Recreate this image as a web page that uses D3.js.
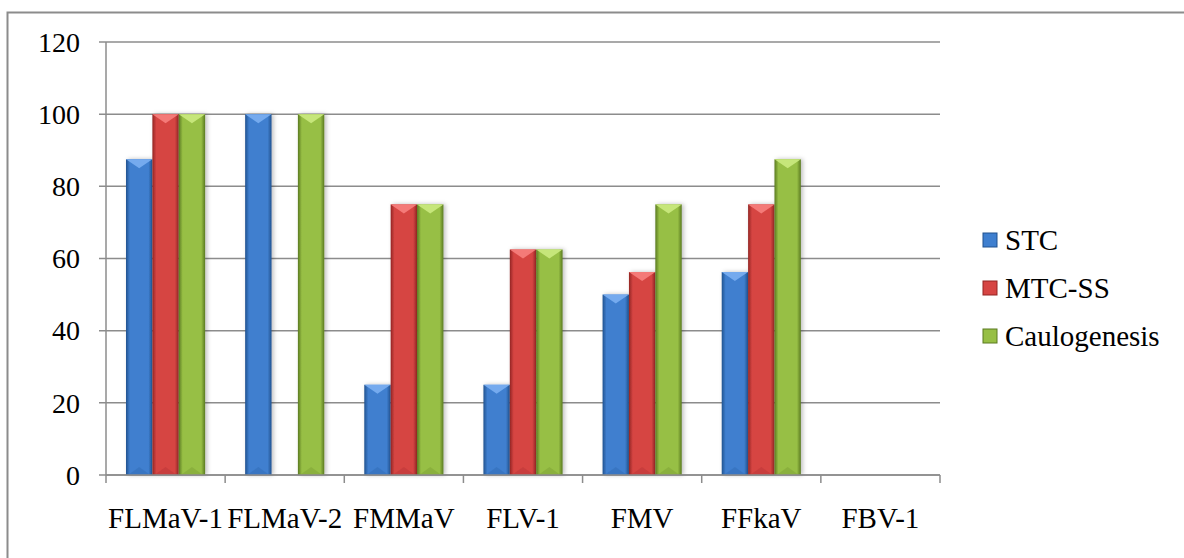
<!DOCTYPE html>
<html>
<head>
<meta charset="utf-8">
<script src="https://cdn.jsdelivr.net/npm/d3@7"></script>
<style>
  body { margin: 0; background: #fff; }
</style>
</head>
<body>
<svg id="chart" width="1184" height="558"></svg>
<script>
(function() {

const categories = ['FLMaV-1', 'FLMaV-2', 'FMMaV', 'FLV-1', 'FMV', 'FFkaV', 'FBV-1'];
const seriesNames = ['STC', 'MTC-SS', 'Caulogenesis'];
const stc = [87.5, 100, 25, 25, 50, 56.25, 0];
const mtcSS = [100, 0, 75, 62.5, 56.25, 75, 0];
const caulogenesis = [100, 100, 75, 62.5, 75, 87.5, 0];
const yTicks = [0, 20, 40, 60, 80, 100, 120];

const seriesValues = [stc, mtcSS, caulogenesis];
const palette = [
  { mid: '#3f7fcf', dark: '#21528f', light: '#74aaee' },
  { mid: '#d64543', dark: '#932523', light: '#f47a78' },
  { mid: '#97bf45', dark: '#5a7a20', light: '#c6e67a' }
];

const FONT = '"Liberation Serif", "Times New Roman", Times, serif';

const svg = d3.select('#chart');
const margin = { left: 106, right: 244, top: 42, bottom: 83 };
const width = 1184;
const height = 558;

// outer frame (right and bottom edges fall outside the picture)
svg.append('rect')
  .attr('x', 7.5).attr('y', 12.5)
  .attr('width', 1200).attr('height', 600)
  .attr('fill', 'none')
  .attr('stroke', '#8c8c8c')
  .attr('stroke-width', 2);

const x = d3.scaleBand()
  .domain(categories)
  .range([margin.left, width - margin.right])
  .paddingInner(0)
  .paddingOuter(0);

const x1 = d3.scaleBand()
  .domain(seriesNames)
  .range([20, x.bandwidth() - 20])
  .padding(0);

const y = d3.scaleLinear()
  .domain([0, 120])
  .range([height - margin.bottom, margin.top]);

const defs = svg.append('defs');
palette.forEach((c, i) => {
  const g = defs.append('linearGradient')
    .attr('id', 'grad' + i)
    .attr('x1', 0).attr('x2', 1).attr('y1', 0).attr('y2', 0);
  g.append('stop').attr('offset', '0%').attr('stop-color', c.dark);
  g.append('stop').attr('offset', '15%').attr('stop-color', c.mid);
  g.append('stop').attr('offset', '45%').attr('stop-color', c.mid);
  g.append('stop').attr('offset', '85%').attr('stop-color', c.mid);
  g.append('stop').attr('offset', '100%').attr('stop-color', c.dark);
});

const shadow = defs.append('filter').attr('id', 'shadow')
  .attr('x', '-30%').attr('y', '-10%').attr('width', '160%').attr('height', '120%');
shadow.append('feDropShadow')
  .attr('dx', 2).attr('dy', 0).attr('stdDeviation', 2)
  .attr('flood-color', '#000').attr('flood-opacity', 0.25);

// gridlines + y ticks
svg.append('g')
  .selectAll('line')
  .data(yTicks)
  .enter().append('line')
    .attr('x1', margin.left - 7)
    .attr('x2', width - margin.right)
    .attr('y1', d => y(d))
    .attr('y2', d => y(d))
    .attr('stroke', '#8c8c8c')
    .attr('stroke-width', 1.5);

svg.append('g')
  .selectAll('text')
  .data(yTicks)
  .enter().append('text')
    .attr('x', margin.left - 26)
    .attr('y', d => y(d))
    .attr('dy', '0.35em')
    .attr('text-anchor', 'end')
    .attr('font-family', FONT)
    .attr('font-size', 28)
    .text(d => d);

// bars
const groups = svg.append('g')
  .selectAll('g')
  .data(categories)
  .enter().append('g')
    .attr('transform', d => `translate(${x(d)},0)`);

groups.each(function(cat, ci) {
  const grp = d3.select(this);
  seriesNames.forEach((s, si) => {
    const v = seriesValues[si][ci];
    if (v <= 0) return;
    const bx = x1(s);
    const bw = x1.bandwidth();
    const top = y(v);
    const bar = grp.append('g').attr('filter', 'url(#shadow)');
    bar.append('rect')
      .attr('x', bx).attr('y', top)
      .attr('width', bw).attr('height', y(0) - top)
      .attr('fill', `url(#grad${si})`);
    // top bevel
    bar.append('path')
      .attr('d', `M${bx},${top}L${bx + bw},${top}L${bx + bw / 2},${top + 9}Z`)
      .attr('fill', palette[si].light);
    // bottom bevel
    bar.append('path')
      .attr('d', `M${bx + 2},${y(0)}L${bx + bw - 2},${y(0)}L${bx + bw / 2},${y(0) - 8}Z`)
      .attr('fill', palette[si].dark)
      .attr('opacity', 0.2);
  });
});

// axes lines
svg.append('line')
  .attr('x1', margin.left).attr('x2', margin.left)
  .attr('y1', y(120)).attr('y2', y(0))
  .attr('stroke', '#8c8c8c').attr('stroke-width', 1.5);

const xTicks = categories.map(c => x(c)).concat([x(categories[categories.length - 1]) + x.bandwidth()]);
svg.append('g')
  .selectAll('line')
  .data(xTicks)
  .enter().append('line')
    .attr('x1', d => d).attr('x2', d => d)
    .attr('y1', y(0)).attr('y2', y(0) + 8)
    .attr('stroke', '#8c8c8c').attr('stroke-width', 1.5);

svg.append('line')
  .attr('x1', margin.left).attr('x2', width - margin.right)
  .attr('y1', y(0)).attr('y2', y(0))
  .attr('stroke', '#8c8c8c').attr('stroke-width', 1.5);

svg.append('g')
  .selectAll('text')
  .data(categories)
  .enter().append('text')
    .attr('x', d => x(d) + x.bandwidth() / 2)
    .attr('y', y(0) + 53)
    .attr('text-anchor', 'middle')
    .attr('font-family', FONT)
    .attr('font-size', 29)
    .text(d => d);

// legend
const legend = svg.append('g')
  .selectAll('g')
  .data(seriesNames)
  .enter().append('g')
    .attr('transform', (d, i) => `translate(983,${240 + i * 48})`);

legend.append('rect')
  .attr('x', 0).attr('y', -7)
  .attr('width', 14).attr('height', 14)
  .attr('fill', (d, i) => palette[i].mid)
  .attr('stroke', (d, i) => palette[i].dark)
  .attr('stroke-width', 1);

legend.append('text')
  .attr('x', 22)
  .attr('dy', '0.35em')
  .attr('font-family', FONT)
  .attr('font-size', 29)
  .text(d => d);

})();
</script>
</body>
</html>
